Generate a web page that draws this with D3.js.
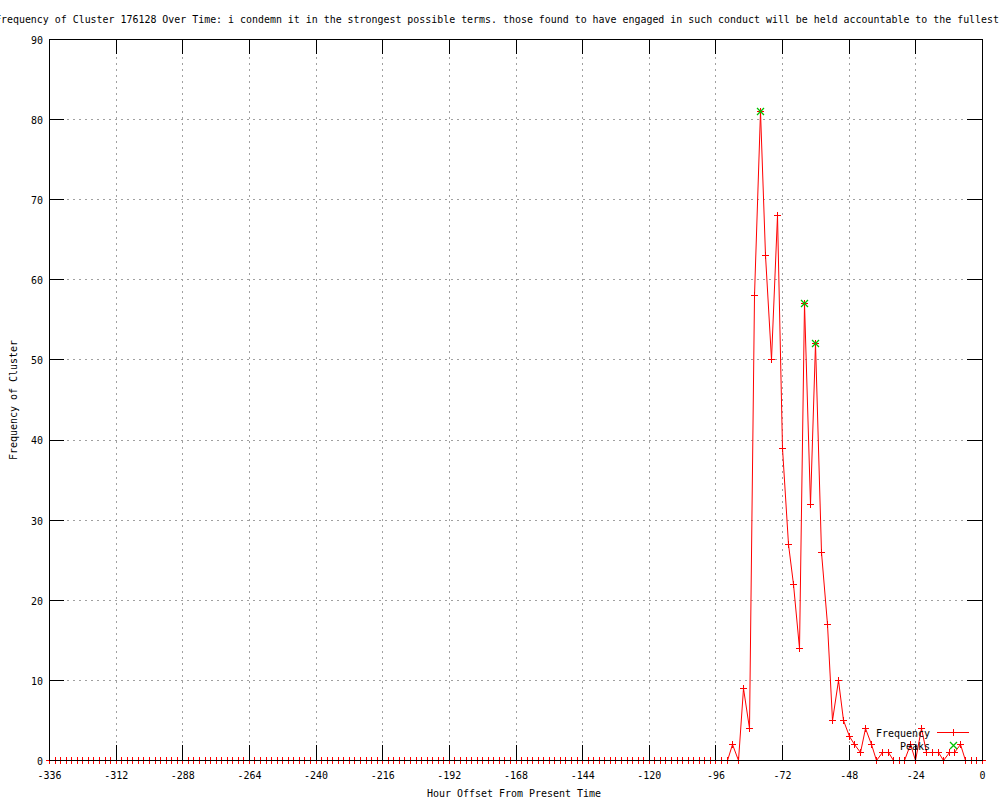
<!DOCTYPE html>
<html>
<head>
<meta charset="utf-8">
<script src="https://cdn.jsdelivr.net/npm/d3@7"></script>
<style>
  body { margin: 0; background: #fff; }
  svg { display: block; background: #fff; }
  text { font-family: "DejaVu Sans Mono", "Liberation Mono", monospace; font-size: 11px; fill: #000; }
</style>
</head>
<body>
<div id="chart"></div>
<script>
const titleText = 'Frequency of Cluster 176128 Over Time: i condemn it in the strongest possible terms. those found to have engaged in such conduct will be held accountable to the fullest';
const xLabel = 'Hour Offset From Present Time';
const yLabel = 'Frequency of Cluster';

// one bin every 2 hours, -336 .. 0
const hours = d3.range(-336, 1, 2);
const frequency = [
  0, 0, 0, 0, 0, 0, 0, 0, 0, 0, 0, 0,
  0, 0, 0, 0, 0, 0, 0, 0, 0, 0, 0, 0,
  0, 0, 0, 0, 0, 0, 0, 0, 0, 0, 0, 0,
  0, 0, 0, 0, 0, 0, 0, 0, 0, 0, 0, 0,
  0, 0, 0, 0, 0, 0, 0, 0, 0, 0, 0, 0,
  0, 0, 0, 0, 0, 0, 0, 0, 0, 0, 0, 0,
  0, 0, 0, 0, 0, 0, 0, 0, 0, 0, 0, 0,
  0, 0, 0, 0, 0, 0, 0, 0, 0, 0, 0, 0,
  0, 0, 0, 0, 0, 0, 0, 0, 0, 0, 0, 0,
  0, 0, 0, 0, 0, 0, 0, 0, 0, 0, 0, 0,
  0, 0, 0, 2, 0, 9, 4, 58, 81, 63, 50, 68,
  39, 27, 22, 14, 57, 32, 52, 26, 17, 5, 10, 5,
  3, 2, 1, 4, 2, 0, 1, 1, 0, 0, 0, 2,
  0, 4, 1, 1, 1, 0, 1, 1, 2, 0, 0, 0,
  0
];
const peakHours = [-80, -64, -60];
const peakValues = [81, 57, 52];

const xTicks = [-336, -312, -288, -264, -240, -216, -192, -168, -144, -120, -96, -72, -48, -24, 0];
const yTicks = [0, 10, 20, 30, 40, 50, 60, 70, 80, 90];
const legendLabels = ['Frequency', 'Peaks'];

const width = 1000;
const height = 800;
const plotLeft = 49, plotRight = 982, plotTop = 39, plotBottom = 760;
const charW = 6;
const tickLen = 15;

const x = d3.scaleLinear().domain([-336, 0]).range([plotLeft, plotRight]);
const y = d3.scaleLinear().domain([0, 90]).range([plotBottom, plotTop]);

const svg = d3.select('#chart').append('svg').attr('width', width).attr('height', height);

// squeeze text to gnuplot's 6px cells
function fixWidth(sel) {
  sel.each(function () {
    const t = d3.select(this);
    const s = t.text();
    t.attr('textLength', s.length * charW).attr('lengthAdjust', 'spacingAndGlyphs');
  });
}

//grid
const grid = svg.append('g').attr('shape-rendering', 'crispEdges');
grid.selectAll('.gx')
  .data(xTicks.filter((d) => d !== -336 && d !== 0))
  .enter()
  .append('line')
  .attr('x1', (d) => Math.round(x(d)) + 0.5)
  .attr('x2', (d) => Math.round(x(d)) + 0.5)
  .attr('y1', plotTop)
  .attr('y2', plotBottom)
  .attr('stroke', '#a0a0a0')
  .attr('stroke-dasharray', '2,4');
grid.selectAll('.gy')
  .data(yTicks.filter((d) => d !== 0 && d !== 90))
  .enter()
  .append('line')
  .attr('x1', plotLeft)
  .attr('x2', plotRight)
  .attr('y1', (d) => Math.round(y(d)) + 0.5)
  .attr('y2', (d) => Math.round(y(d)) + 0.5)
  .attr('stroke', '#a0a0a0')
  .attr('stroke-dasharray', '2,4');

const plus = 'M-3.5,0H3.5M0,-3.5V3.5';
const cross = 'M-3.5,-3.5L3.5,3.5M-3.5,3.5L3.5,-3.5';

//frequency line
const line = d3.line()
  .x((d, i) => Math.round(x(hours[i])) + 0.5)
  .y((d) => Math.round(y(d)) + 0.5);

svg.append('path')
  .datum(frequency)
  .attr('d', line)
  .attr('fill', 'none')
  .attr('stroke', '#ff0000')
  .attr('stroke-width', 1);

svg.append('g')
  .attr('shape-rendering', 'crispEdges')
  .selectAll('path')
  .data(frequency)
  .enter()
  .append('path')
  .attr('d', plus)
  .attr('transform', (d, i) => 'translate(' + (Math.round(x(hours[i])) + 0.5) + ',' + (Math.round(y(d)) + 0.5) + ')')
  .attr('stroke', '#ff0000');

//peaks (green x)
svg.append('g')
  .selectAll('path')
  .data(peakHours)
  .enter()
  .append('path')
  .attr('d', cross)
  .attr('transform', (d, i) => 'translate(' + (Math.round(x(d)) + 0.5) + ',' + (Math.round(y(peakValues[i])) + 0.5) + ')')
  .attr('stroke', '#00c000')
  .attr('stroke-width', 1.3)
  .attr('fill', 'none');

//axes, ticks pointing inward on all four sides
const fmt = (d) => String(d);
const axB = svg.append('g').attr('transform', 'translate(0,' + plotBottom + ')')
  .call(d3.axisBottom(x).tickValues(xTicks).tickFormat(fmt).tickSize(-tickLen).tickPadding(11));
const axT = svg.append('g').attr('transform', 'translate(0,' + plotTop + ')')
  .call(d3.axisTop(x).tickValues(xTicks).tickFormat('').tickSize(-tickLen));
const axL = svg.append('g').attr('transform', 'translate(' + plotLeft + ',0)')
  .call(d3.axisLeft(y).tickValues(yTicks).tickFormat(fmt).tickSize(-tickLen).tickPadding(6));
const axR = svg.append('g').attr('transform', 'translate(' + plotRight + ',0)')
  .call(d3.axisRight(y).tickValues(yTicks).tickFormat('').tickSize(-tickLen));

[axB, axT, axL, axR].forEach((g) => {
  g.select('.domain').remove();
  g.attr('font-family', null).attr('font-size', null).attr('shape-rendering', 'crispEdges');
  g.selectAll('line').attr('stroke', '#000');
});
axL.selectAll('text').attr('dy', '0.4em');
fixWidth(axB.selectAll('text'));
fixWidth(axL.selectAll('text'));

//border
svg.append('rect')
  .attr('x', plotLeft + 0.5)
  .attr('y', plotTop + 0.5)
  .attr('width', plotRight - plotLeft)
  .attr('height', plotBottom - plotTop)
  .attr('fill', 'none')
  .attr('stroke', '#000')
  .attr('shape-rendering', 'crispEdges');

//title (runs past both edges, as in the original)
svg.append('text')
  .text(titleText)
  .attr('x', -5)
  .attr('y', 23)
  .attr('textLength', 1004)
  .attr('lengthAdjust', 'spacingAndGlyphs');

//x axis label
svg.append('text')
  .text(xLabel)
  .attr('x', 514)
  .attr('y', 797)
  .attr('text-anchor', 'middle')
  .call(fixWidth);

//y axis label
svg.append('text')
  .text(yLabel)
  .attr('text-anchor', 'middle')
  .attr('transform', 'translate(16.5,400) rotate(-90)')
  .call(fixWidth);

//legend
const legend = svg.append('g');
legend.selectAll('text')
  .data(legendLabels)
  .enter()
  .append('text')
  .text((d) => d)
  .attr('x', 930)
  .attr('y', (d, i) => 737 + i * 13)
  .attr('text-anchor', 'end')
  .call(fixWidth);

legend.append('line')
  .attr('x1', 937)
  .attr('x2', 969)
  .attr('y1', 732.5)
  .attr('y2', 732.5)
  .attr('stroke', '#ff0000')
  .attr('shape-rendering', 'crispEdges');
legend.append('path')
  .attr('d', plus)
  .attr('transform', 'translate(953.5,732.5)')
  .attr('stroke', '#ff0000')
  .attr('shape-rendering', 'crispEdges');
legend.append('path')
  .attr('d', cross)
  .attr('transform', 'translate(953.5,745.5)')
  .attr('stroke', '#00c000')
  .attr('stroke-width', 1.3);
</script>
</body>
</html>
